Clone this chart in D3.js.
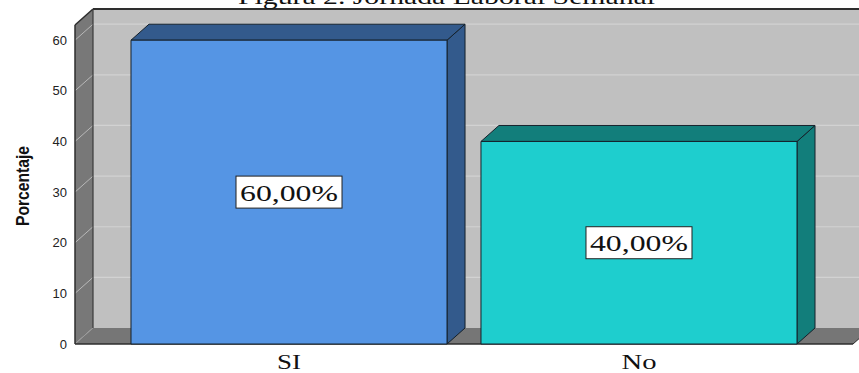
<!DOCTYPE html>
<html>
<head>
<meta charset="utf-8">
<script src="https://cdn.jsdelivr.net/npm/d3@7/dist/d3.min.js"></script>
<style>
  html, body { margin: 0; padding: 0; background: #ffffff; }
  svg { display: block; }
</style>
</head>
<body>
<script>
// Jornada laboral semanal: porcentaje de respuestas
const categories = ["SI", "No"];
const values = [60, 40];
const valueLabels = ["60,00%", "40,00%"];
const tickValues = [0, 10, 20, 30, 40, 50, 60];
const frontColors = ["#5595e4", "#1ecece"];
const sideColors = ["#335a8c", "#127e7b"];

const W = 859, H = 373;
const depthX = 18, depthY = -16;      // 3D offset of the back plane
const x0 = 75, x1 = 853;              // front plane extent
const yBase = 344, yTopFront = 25;    // front plane vertical extent
const yMax = 63;

const svg = d3.select("body").append("svg")
  .attr("width", W).attr("height", H);

const x = d3.scaleBand().domain(categories)
  .range([x0, x1]).paddingInner(0.097).paddingOuter(0.16);
const y = d3.scaleLinear().domain([0, yMax]).range([yBase, yTopFront]);

// back wall
svg.append("rect")
  .attr("x", x0 + depthX).attr("y", yTopFront + depthY)
  .attr("width", W).attr("height", yBase - yTopFront)
  .attr("fill", "#c0c0c0");

// left wall
const leftWall = [[x0, y.range()[1]], [x0 + depthX, y.range()[1] + depthY],
                  [x0 + depthX, yBase + depthY], [x0, yBase]];
svg.append("polygon").attr("points", leftWall.join(" ")).attr("fill", "#787878");

// gridlines (back wall + left wall diagonals)
const grid = svg.append("g");
tickValues.forEach(v => {
  const yy = y(v);
  if (v > 0) {
    grid.append("line")
      .attr("x1", x0 + depthX).attr("x2", W)
      .attr("y1", yy + depthY).attr("y2", yy + depthY)
      .attr("stroke", "#d2d2d2").attr("stroke-width", 1.2);
  }
  grid.append("line")
    .attr("x1", x0).attr("y1", yy)
    .attr("x2", x0 + depthX).attr("y2", yy + depthY)
    .attr("stroke", "#b8b8b8").attr("stroke-width", 1);
});

// floor
const floor = [[x0, yBase], [x0 + depthX, yBase + depthY],
               [x1 + depthX, yBase + depthY], [x1, yBase]];
svg.append("polygon").attr("points", floor.join(" ")).attr("fill", "#767676");
svg.append("line")
  .attr("x1", x0).attr("y1", yBase).attr("x2", x0 + depthX).attr("y2", yBase + depthY)
  .attr("stroke", "#9a9a9a").attr("stroke-width", 1);

// frame edges
const edge = "#2e2e2e";
svg.append("line").attr("x1", x0 + depthX).attr("x2", W)
  .attr("y1", yTopFront + depthY).attr("y2", yTopFront + depthY)
  .attr("stroke", edge).attr("stroke-width", 2);
svg.append("line").attr("x1", x0).attr("y1", yTopFront)
  .attr("x2", x0 + depthX).attr("y2", yTopFront + depthY)
  .attr("stroke", edge).attr("stroke-width", 1.5);
svg.append("line").attr("x1", x0 + depthX).attr("x2", x0 + depthX)
  .attr("y1", yTopFront + depthY).attr("y2", yBase + depthY)
  .attr("stroke", "#3a3a3a").attr("stroke-width", 1.2);
svg.append("line").attr("x1", x0).attr("x2", x0)
  .attr("y1", yTopFront).attr("y2", yBase)
  .attr("stroke", edge).attr("stroke-width", 1.5);
svg.append("line").attr("x1", x0).attr("x2", x1)
  .attr("y1", yBase).attr("y2", yBase)
  .attr("stroke", edge).attr("stroke-width", 1.5);
svg.append("line").attr("x1", x1).attr("y1", yBase)
  .attr("x2", x1 + depthX).attr("y2", yBase + depthY)
  .attr("stroke", edge).attr("stroke-width", 1);

// 3D bars
const bars = svg.append("g");
categories.forEach((c, i) => {
  const bx = x(c), bw = x.bandwidth(), by = y(values[i]);
  const g = bars.append("g")
    .attr("stroke", "#14202a").attr("stroke-width", 1).attr("stroke-linejoin", "round");
  // right side face
  g.append("polygon").attr("points", [
    [bx + bw, yBase], [bx + bw + depthX, yBase + depthY],
    [bx + bw + depthX, by + depthY], [bx + bw, by]].join(" "))
    .attr("fill", sideColors[i]);
  // top face
  g.append("polygon").attr("points", [
    [bx, by], [bx + depthX, by + depthY],
    [bx + bw + depthX, by + depthY], [bx + bw, by]].join(" "))
    .attr("fill", sideColors[i]);
  // front face
  g.append("rect").attr("x", bx).attr("y", by)
    .attr("width", bw).attr("height", yBase - by)
    .attr("fill", frontColors[i]);
});

// value labels in boxes
categories.forEach((c, i) => {
  const cx = x(c) + x.bandwidth() / 2;
  const cy = (y(values[i]) + yBase) / 2;
  const bw = 106, bh = 32;
  svg.append("rect")
    .attr("x", cx - bw / 2).attr("y", cy - bh / 2)
    .attr("width", bw).attr("height", bh)
    .attr("fill", "#ffffff").attr("stroke", "#222").attr("stroke-width", 1);
  svg.append("text")
    .attr("x", cx).attr("y", cy + 8.5)
    .attr("text-anchor", "middle")
    .attr("font-family", "Liberation Serif, Times New Roman, serif")
    .attr("font-size", 23)
    .attr("textLength", 98).attr("lengthAdjust", "spacingAndGlyphs")
    .attr("fill", "#111")
    .text(valueLabels[i]);
});

// y tick labels
svg.append("g").selectAll("text").data(tickValues).join("text")
  .attr("x", 67).attr("y", d => y(d) + 4.5)
  .attr("text-anchor", "end")
  .attr("font-family", "Liberation Sans, Arial, sans-serif")
  .attr("font-size", 13)
  .attr("fill", "#222")
  .text(d => d);

// x category labels
svg.append("g").selectAll("text").data(categories).join("text")
  .attr("x", d => x(d) + x.bandwidth() / 2).attr("y", 369)
  .attr("text-anchor", "middle")
  .attr("font-family", "Liberation Serif, Times New Roman, serif")
  .attr("font-size", 20)
  .attr("textLength", (d, i) => [24, 35][i]).attr("lengthAdjust", "spacingAndGlyphs")
  .attr("fill", "#111")
  .text(d => d);

// y axis title
svg.append("text")
  .attr("transform", "translate(29,186) rotate(-90)")
  .attr("text-anchor", "middle")
  .attr("font-family", "Liberation Sans Narrow, Arial Narrow, Liberation Sans, sans-serif")
  .attr("font-size", 18).attr("font-weight", "bold")
  .attr("textLength", 80).attr("lengthAdjust", "spacingAndGlyphs")
  .attr("fill", "#111")
  .text("Porcentaje");

// chart title
svg.append("text")
  .attr("x", 238).attr("y", 4)
  .attr("font-family", "Liberation Serif, Times New Roman, serif")
  .attr("font-size", 21)
  .attr("textLength", 417).attr("lengthAdjust", "spacingAndGlyphs")
  .attr("fill", "#111")
  .text("Figura 2. Jornada Laboral Semanal");
</script>
</body>
</html>
